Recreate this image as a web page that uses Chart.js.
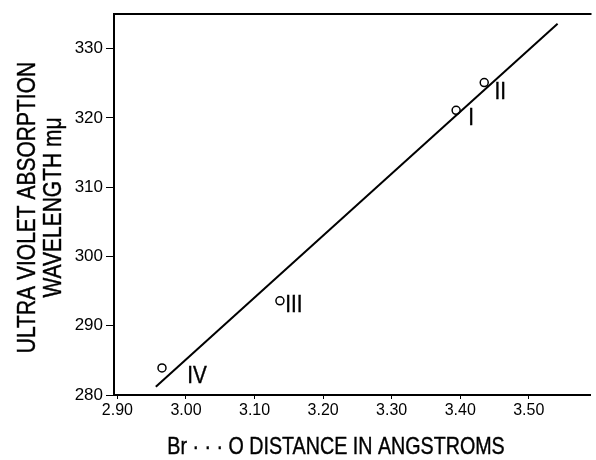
<!DOCTYPE html>
<html>
<head>
<meta charset="utf-8">
<script src="https://cdn.jsdelivr.net/npm/chart.js@4"></script>
<style>
  html, body { margin: 0; padding: 0; background: #fff; }
  #chart { display: block; }
</style>
</head>
<body>
<canvas id="chart" width="596" height="460"></canvas>
<script>
// data
const compoundLabels = ['I', 'II', 'III', 'IV'];
const distances = [3.394, 3.435, 3.137, 2.965];     // Br...O distance, Angstroms
const wavelengths = [321.1, 325.1, 293.6, 283.9];  // UV absorption, m\u03bc
const fitX = [2.956, 3.542];
const fitY = [281.2, 333.6];
const xTicks = [2.90, 3.00, 3.10, 3.20, 3.30, 3.40, 3.50];
const yTicks = [280, 290, 300, 310, 320, 330];

const yTitle = ['ULTRA VIOLET ABSORPTION', 'WAVELENGTH m\u03bc'];
const xTitle = 'Br \u00b7 \u00b7 \u00b7 O DISTANCE IN ANGSTROMS';

const points = distances.map((d, i) => ({ x: d, y: wavelengths[i] }));
const fitLine = fitX.map((d, i) => ({ x: d, y: fitY[i] }));

// pixel offsets of the roman numerals from their points
const labelOffsets = [[15, 8], [16, 10], [14, 5], [35, 9]];

const FONT = '"Liberation Sans", Arial, Helvetica, sans-serif';

// draws condensed text (the scan's lettering is narrow)
function condensedText(ctx, text, x, y, size, squeeze, rotate) {
  ctx.save();
  ctx.translate(x, y);
  if (rotate) ctx.rotate(-Math.PI / 2);
  ctx.scale(squeeze, 1);
  ctx.font = size + 'px ' + FONT;
  ctx.fillStyle = '#000';
  ctx.strokeStyle = '#000';
  ctx.lineWidth = 0.4;
  ctx.textAlign = 'center';
  ctx.textBaseline = 'middle';
  ctx.fillText(text, 0, 0);
  ctx.strokeText(text, 0, 0);
  ctx.restore();
}

const annotations = {
  id: 'annotations',
  afterDraw(chart) {
    const ctx = chart.ctx;
    const area = chart.chartArea;
    const xs = chart.scales.x, ys = chart.scales.y;

    // top frame line
    ctx.save();
    ctx.strokeStyle = '#000';
    ctx.lineWidth = 2;
    ctx.beginPath();
    ctx.moveTo(area.left, area.top);
    ctx.lineTo(area.right + 1, area.top);
    ctx.stroke();
    ctx.restore();

    // roman numerals next to the points
    compoundLabels.forEach((lab, i) => {
      const px = xs.getPixelForValue(distances[i]) + labelOffsets[i][0];
      const py = ys.getPixelForValue(wavelengths[i]) + labelOffsets[i][1];
      condensedText(ctx, lab, px, py, 23, 0.9, false);
    });

    // axis titles
    const midY = (area.top + area.bottom) / 2 + 3;
    condensedText(ctx, yTitle[0], 28, midY, 25, 0.84, true);
    condensedText(ctx, yTitle[1], 54, midY, 25, 0.84, true);
    condensedText(ctx, xTitle, 336, 447, 24, 0.82, false);
  }
};

new Chart(document.getElementById('chart'), {
  type: 'scatter',
  data: {
    datasets: [
      {
        data: fitLine,
        showLine: true,
        borderColor: '#000',
        borderWidth: 2,
        pointRadius: 0,
        pointHoverRadius: 0
      },
      {
        data: points,
        pointStyle: 'circle',
        pointRadius: 4,
        pointBorderWidth: 1.5,
        pointBorderColor: '#000',
        pointBackgroundColor: '#fff'
      },
      {
        data: points,
        pointStyle: 'circle',
        pointRadius: 1,
        pointBorderWidth: 0,
        pointBackgroundColor: '#000'
      }
    ]
  },
  options: {
    responsive: false,
    animation: false,
    layout: { padding: { top: 14, right: 1, left: 0, bottom: 0 } },
    plugins: {
      legend: { display: false },
      tooltip: { enabled: false }
    },
    scales: {
      x: {
        type: 'linear',
        min: 2.895,
        max: 3.59,
        afterBuildTicks: s => { s.ticks = xTicks.map(v => ({ value: v })); },
        afterFit: s => { s.height = 65; },
        grid: { drawOnChartArea: false, drawTicks: true, tickLength: 4, color: '#000' },
        border: { display: true, color: '#000', width: 2 },
        ticks: {
          color: '#000',
          padding: 2,
          maxRotation: 0,
          autoSkip: false,
          font: { family: FONT, size: 16 },
          callback: v => v.toFixed(2)
        }
      },
      y: {
        type: 'linear',
        min: 280,
        max: 335,
        afterBuildTicks: s => { s.ticks = yTicks.map(v => ({ value: v })); },
        afterFit: s => { s.width = 114; },
        grid: { drawOnChartArea: false, drawTicks: true, tickLength: 8, color: '#000' },
        border: { display: true, color: '#000', width: 2 },
        ticks: {
          color: '#000',
          padding: 3,
          autoSkip: false,
          font: { family: FONT, size: 17 },
          callback: v => String(v)
        }
      }
    }
  },
  plugins: [annotations]
});
</script>
</body>
</html>
